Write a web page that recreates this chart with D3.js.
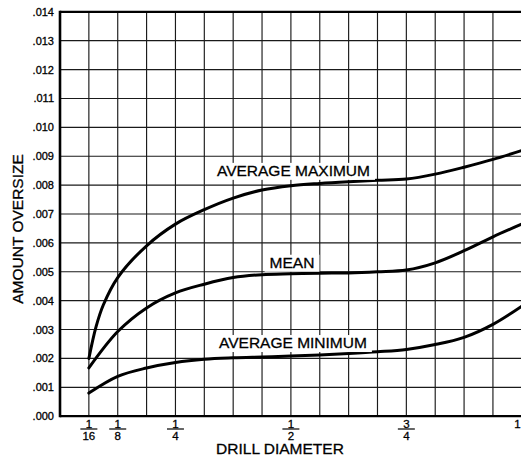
<!DOCTYPE html>
<html>
<head>
<meta charset="utf-8">
<script src="https://cdn.jsdelivr.net/npm/d3@7"></script>
<style>
  html, body { margin: 0; padding: 0; background: #fff; }
  svg { display: block; }
  text { font-family: "Liberation Sans", Arial, Helvetica, sans-serif; fill: #000; stroke: #000; stroke-width: 0.3px; }
</style>
</head>
<body>
<svg id="chart" width="521" height="459"></svg>
<script>
// ---- data (drill diameter in inches, oversize in inches) ----
const diameters = [0.0625, 0.078125, 0.09375, 0.125, 0.1875, 0.25, 0.3125, 0.375, 0.4375, 0.5, 0.5625, 0.625, 0.6875, 0.75, 0.8125, 0.875, 0.9375, 1.0];
const avgMaximum = [0.0020, 0.0031, 0.00385, 0.0048, 0.0059, 0.00665, 0.00715, 0.00755, 0.00783, 0.00798, 0.00806, 0.00812, 0.00817, 0.00821, 0.00838, 0.00862, 0.00889, 0.0092];
const meanDiam   = [0.00167, null, null, 0.00293, 0.00375, 0.00427, 0.00457, 0.0048, 0.0049, 0.00493, 0.00495, 0.00496, 0.0050, 0.00506, 0.00531, 0.00573, 0.00621, 0.00665];
const avgMinimum = [0.0008, null, null, 0.00138, 0.00167, 0.00186, 0.00197, 0.00202, 0.00205, 0.00208, 0.00212, 0.00217, 0.00223, 0.00231, 0.00248, 0.00273, 0.00318, 0.00381];
const seriesNames = ["AVERAGE MAXIMUM", "MEAN", "AVERAGE MINIMUM"];
const labelAnchors = [[0.5056, 0.00832], [0.5024, 0.00514], [0.5045, 0.00236]];

const yTicks = [0, 0.001, 0.002, 0.003, 0.004, 0.005, 0.006, 0.007, 0.008, 0.009, 0.010, 0.011, 0.012, 0.013, 0.014];
const xGrid = d3.range(0, 17).map(k => k / 16);
const xTickValues = [0.0625, 0.125, 0.25, 0.5, 0.75, 1.0];
const xTickNum = ["1", "1", "1", "1", "3", "1"];
const xTickDen = ["16", "8", "4", "2", "4", ""];

// ---- layout ----
const svg = d3.select("#chart");
const x = d3.scaleLinear().domain([0, 1]).range([60, 521.8]);
const y = d3.scaleLinear().domain([0, 0.014]).range([416.2, 11.8]);

// grid
const g = svg.append("g");
g.selectAll("line.v").data(xGrid).join("line")
  .attr("x1", d => x(d)).attr("x2", d => x(d))
  .attr("y1", y(0.014)).attr("y2", y(0))
  .attr("stroke", "#1a1a1a").attr("stroke-width", 1.15);
g.selectAll("line.h").data(yTicks).join("line")
  .attr("x1", x(0)).attr("x2", x(1))
  .attr("y1", d => y(d)).attr("y2", d => y(d))
  .attr("stroke", "#1a1a1a").attr("stroke-width", 1.15);

// frame
svg.append("line").attr("x1", x(0)).attr("x2", x(0)).attr("y1", y(0.014) - 1).attr("y2", y(0) + 1)
  .attr("stroke", "#000").attr("stroke-width", 2.6);
svg.append("line").attr("x1", x(0)).attr("x2", x(1)).attr("y1", y(0.014)).attr("y2", y(0.014))
  .attr("stroke", "#000").attr("stroke-width", 2.2);
svg.append("line").attr("x1", x(0)).attr("x2", x(1)).attr("y1", y(0)).attr("y2", y(0))
  .attr("stroke", "#000").attr("stroke-width", 2.2);

// y axis tick labels
const yAxis = d3.axisLeft(y).tickValues(yTicks).tickSize(0).tickPadding(6)
  .tickFormat(d => d3.format(".3f")(d).replace(/^0/, ""));
const ya = svg.append("g").attr("transform", `translate(${x(0)},0)`).call(yAxis);
ya.select(".domain").remove();
ya.selectAll("text").attr("font-size", 11).attr("font-family", "Liberation Sans, Arial, sans-serif");

// x axis fraction labels
const xt = svg.append("g").selectAll("g").data(xTickValues).join("g")
  .attr("transform", d => `translate(${Math.min(x(d), 517.5)},0)`);
xt.append("text").attr("text-anchor", "middle").attr("y", 427.5).attr("font-size", 11.5)
  .text((d, i) => xTickNum[i]);
xt.filter((d, i) => xTickDen[i] !== "").append("line")
  .attr("x1", -8.5).attr("x2", 8.5).attr("y1", 429).attr("y2", 429)
  .attr("stroke", "#000").attr("stroke-width", 1.2);
xt.append("text").attr("text-anchor", "middle").attr("y", 439.5).attr("font-size", 11.5)
  .text((d, i) => xTickDen[i]);

// axis titles
svg.append("text").attr("x", 280).attr("y", 454).attr("text-anchor", "middle")
  .attr("font-size", 15.5).text("DRILL DIAMETER");
svg.append("text").attr("transform", "translate(23,229) rotate(-90)").attr("text-anchor", "middle")
  .attr("font-size", 15.5).text("AMOUNT OVERSIZE");

// curves
const allSeries = [avgMaximum, meanDiam, avgMinimum];
const line = d3.line()
  .x(d => x(d[0])).y(d => y(d[1]))
  .curve(d3.curveCatmullRom.alpha(0.5));
allSeries.forEach(vals => {
  const pts = diameters.map((d, i) => [d, vals[i]]).filter(p => p[1] !== null);
  svg.append("path").datum(pts).attr("d", line)
    .attr("fill", "none").attr("stroke", "#000").attr("stroke-width", 3)
    .attr("stroke-linecap", "round");
});

// series labels with white backgrounds
seriesNames.forEach((name, i) => {
  const lg = svg.append("g");
  const t = lg.append("text").attr("x", x(labelAnchors[i][0])).attr("y", y(labelAnchors[i][1]))
    .attr("text-anchor", "middle").attr("font-size", 15.5).text(name);
  const bb = t.node().getBBox();
  lg.insert("rect", "text").attr("x", bb.x - 5).attr("y", bb.y + 1)
    .attr("width", bb.width + 10).attr("height", bb.height).attr("fill", "#fff");
});
</script>
</body>
</html>
